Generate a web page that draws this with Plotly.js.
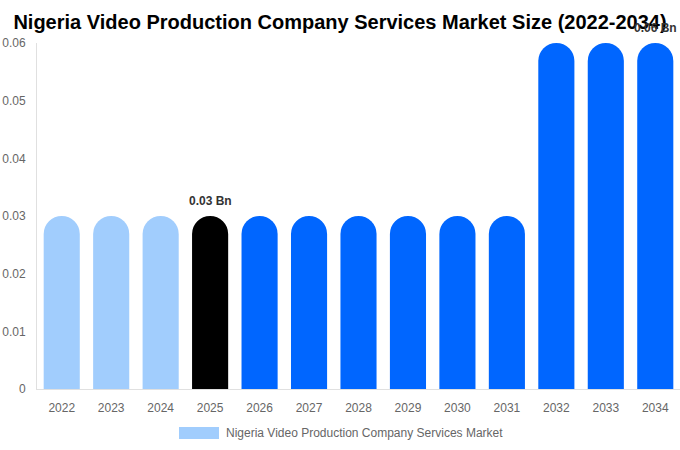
<!DOCTYPE html>
<html>
<head>
<meta charset="utf-8">
<script src="https://cdn.plot.ly/plotly-3.0.1.min.js"></script>
<style>html,body{margin:0;padding:0;background:#fff;}#chart{width:680px;height:450px;}</style>
</head>
<body>
<div id="chart"></div>
<script>
var years = ["2022","2023","2024","2025","2026","2027","2028","2029","2030","2031","2032","2033","2034"];
var marketSize = [0.03,0.03,0.03,0.03,0.03,0.03,0.03,0.03,0.03,0.03,0.06,0.06,0.06];
var labelledYears = ["2025","2034"];
var seriesName = "Nigeria Video Production Company Services Market";
var yTicks = [0,0.01,0.02,0.03,0.04,0.05,0.06];

var colors = years.map(function(y){
  var n = parseInt(y,10);
  if (n < 2025) return "#a1cdfd";
  if (n === 2025) return "#000000";
  return "#0066ff";
});

var trace = {
  type: "bar",
  x: years,
  y: marketSize,
  name: seriesName,
  marker: {color: colors, cornerradius: "50%"},
  cliponaxis: false,
  showlegend: false,
  hoverinfo: "x+y"
};

var annotations = [];
years.forEach(function(y,i){
  if (labelledYears.indexOf(y) >= 0) {
    annotations.push({
      x: i, y: marketSize[i], xref: "x", yref: "y",
      xanchor: "center", yanchor: "bottom", yshift: 6,
      text: marketSize[i].toFixed(2) + " Bn", showarrow: false,
      font: {family: "Liberation Sans, Arial, sans-serif", size: 12, color: "#333333", weight: "bold"}
    });
  }
});
annotations.push({
  xref: "paper", yref: "paper",
  x: (224-37)/643, y: -(433-389)/346,
  xanchor: "left", yanchor: "middle",
  text: seriesName, showarrow: false,
  font: {size: 12, color: "#666666"}
});

var layout = {
  width: 680,
  height: 450,
  margin: {l: 37, r: 0, t: 43, b: 61},
  paper_bgcolor: "#ffffff",
  plot_bgcolor: "#ffffff",
  font: {family: "Liberation Sans, Arial, sans-serif", size: 12, color: "#666666"},
  title: {
    text: "Nigeria Video Production Company Services Market Size (2022-2034)",
    font: {family: "Liberation Sans, Arial, sans-serif", size: 20, color: "#000000", weight: "bold"},
    x: 0.5, xanchor: "center",
    yref: "container", y: 1 - 21.5/450, yanchor: "middle"
  },
  bargap: 0.27,
  xaxis: {
    type: "category",
    categoryorder: "array",
    categoryarray: years,
    range: [-0.5, years.length - 0.5],
    showgrid: false,
    showline: true,
    linecolor: "#e0e0e0",
    linewidth: 1,
    ticks: "",
    ticklabelstandoff: 8,
    tickfont: {size: 12, color: "#666666"},
    zeroline: false
  },
  yaxis: {
    range: [0, 0.06],
    tickvals: yTicks,
    ticktext: yTicks.map(function(v){ return String(v); }),
    showgrid: false,
    showline: true,
    linecolor: "#e0e0e0",
    linewidth: 1,
    ticks: "",
    ticklabelstandoff: 8,
    zeroline: false,
    tickfont: {size: 12, color: "#666666"}
  },
  shapes: [{
    type: "rect", xref: "paper", yref: "paper",
    x0: (179-37)/643, x1: (219-37)/643,
    y0: -(439-389)/346, y1: -(427-389)/346,
    fillcolor: "#a1cdfd", line: {width: 0}
  }],
  annotations: annotations
};

Plotly.newPlot("chart", [trace], layout, {displayModeBar: false, staticPlot: true});
</script>
</body>
</html>
